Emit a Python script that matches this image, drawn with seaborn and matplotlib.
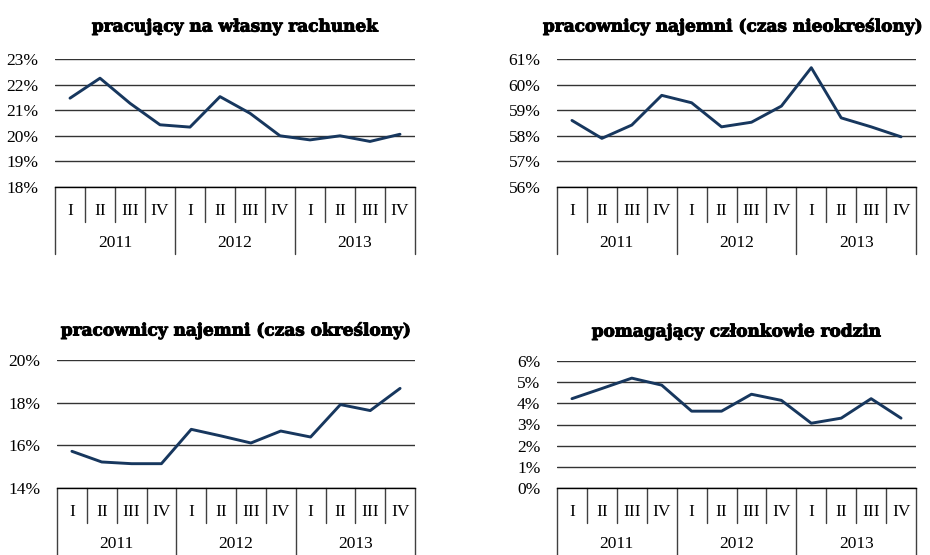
import numpy as np
import pandas as pd
import matplotlib
matplotlib.use('Agg')
import matplotlib.pyplot as plt
import matplotlib.patheffects as pe
from matplotlib.ticker import FuncFormatter, MultipleLocator
import seaborn as sns

# quarterly shares (%), 2011-2013
quarters = ['I', 'II', 'III', 'IV'] * 3
years = ['2011', '2012', '2013']

self_employed = [21.47, 22.25, 21.27, 20.43, 20.34, 21.53, 20.88, 20.00, 19.84, 20.00, 19.78, 20.06]
permanent = [58.60, 57.90, 58.42, 59.58, 59.29, 58.35, 58.53, 59.16, 60.66, 58.70, 58.35, 57.96]
temporary = [15.72, 15.22, 15.14, 15.14, 16.75, 16.44, 16.11, 16.67, 16.39, 17.91, 17.63, 18.67]
family_help = [4.22, 4.70, 5.19, 4.86, 3.63, 3.63, 4.43, 4.14, 3.06, 3.30, 4.22, 3.30]

titles = ['pracujący na własny rachunek',
          'pracownicy najemni (czas nieokreślony)',
          'pracownicy najemni (czas określony)',
          'pomagający członkowie rodzin']
series = [self_employed, permanent, temporary, family_help]
ylims = [(18, 23, 1), (56, 61, 1), (14, 20, 2), (0, 6, 1)]

sns.set_style('white')
plt.rcParams['font.family'] = ['Liberation Serif', 'DejaVu Serif']
plt.rcParams['text.color'] = 'black'
plt.rcParams['ytick.color'] = 'black'

LINE = '#17375e'
GRID = '#333333'

fig = plt.figure(figsize=(9.3, 5.55), dpi=100)
W, H = 930, 555
boxes = [(55, 59, 415, 187), (557, 59, 916, 187),
         (57, 360, 415, 488), (557, 361, 916, 488)]
title_x = [0.5, 0.49, 0.5, 0.5]

for k, (box, vals, title, (lo, hi, step)) in enumerate(zip(boxes, series, titles, ylims)):
    x0, y0, x1, y1 = box
    ax = fig.add_axes([x0 / W, 1 - y1 / H, (x1 - x0) / W, (y1 - y0) / H])
    hpx = y1 - y0
    df = pd.DataFrame({'pos': np.arange(len(vals)), 'val': vals})
    sns.lineplot(data=df, x='pos', y='val', ax=ax, color=LINE, linewidth=2.1)

    ax.set_xlim(-0.5, len(vals) - 0.5)
    ax.set_ylim(lo, hi)
    ax.yaxis.set_major_locator(MultipleLocator(step))
    ax.yaxis.set_major_formatter(FuncFormatter(lambda v, p: f'{v:.0f}%'))
    ax.grid(axis='y', color=GRID, linewidth=1.0)
    ax.set_axisbelow(True)
    ax.set_xticks([])
    ax.set_xlabel('')
    ax.set_ylabel('')
    ax.tick_params(axis='y', length=0, pad=12, labelsize=12.5, labelcolor='black')
    for s in ['top', 'left', 'right']:
        ax.spines[s].set_visible(False)
    ax.spines['bottom'].set_color('black')
    ax.spines['bottom'].set_linewidth(1.0)

    # multi-level category axis
    tr = ax.get_xaxis_transform()
    q_bot = -35 / hpx
    y_bot = -67 / hpx
    for i in range(len(vals) + 1):
        bottom = y_bot if i % 4 == 0 else q_bot
        ax.plot([i - 0.5, i - 0.5], [0, bottom], transform=tr, color='#404040',
                linewidth=1.0, clip_on=False)
    for i, q in enumerate(quarters):
        ax.text(i, -24 / hpx, q, transform=tr, ha='center', va='center',
                fontsize=12.5, color='black')
    for j, yr in enumerate(years):
        ax.text(4 * j + 1.5, -56 / hpx, yr, transform=tr, ha='center', va='center',
                fontsize=12.5, color='black')

    off = 32 if k < 2 else 29
    ax.text(title_x[k], 1 + off / hpx, title, transform=ax.transAxes, ha='center', va='center',
            fontsize=12.2, fontweight='bold', family=['DejaVu Serif'], color='black',
            path_effects=[pe.withStroke(linewidth=0.7, foreground='black')])

fig.savefig('out.png', dpi=100)
